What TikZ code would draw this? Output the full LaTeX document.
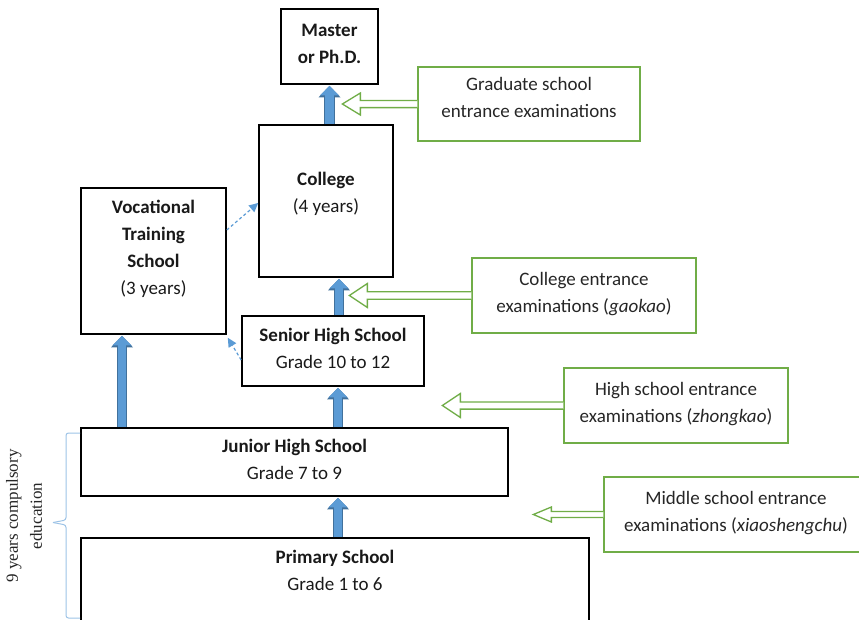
\documentclass[tikz,border=0pt]{standalone}
\usepackage{fontspec}
\setmainfont{Carlito}
\newfontfamily\timesfont{Liberation Serif}
\usetikzlibrary{arrows.meta,positioning}
\definecolor{arrowblue}{HTML}{5B9BD5}
\definecolor{arrowedge}{HTML}{41719C}
\definecolor{examgreen}{HTML}{70AD47}
\definecolor{bracketblue}{HTML}{9DC3E6}

\begin{document}
\begin{tikzpicture}[x=1pt, y=-1pt,
    font=\fontsize{19}{27}\selectfont,
    school/.style={draw, line width=1.6pt, align=center, inner sep=0pt, text depth=6pt, text=black!90},
    exam/.style={draw=examgreen, line width=1.3pt, align=center, inner sep=0pt, text depth=6pt, text=black!85},
    blockarrow/.style={draw=arrowblue, line width=8.6pt, shorten >=1pt,
        -{Triangle[width=19pt,length=9.5pt,line width=0pt]},
        preaction={draw=arrowedge, line width=10.6pt, -{Triangle[width=22pt,length=11.5pt,line width=0pt]}}},
    dasharrow/.style={draw=arrowblue, line width=1.2pt, dash pattern=on 3pt off 2.5pt,
        -{Triangle[width=9pt,length=9pt,line width=0pt]}},
    examarrow/.style n args={2}{draw=examgreen, line width=1.3pt, fill=white,
        to path={([yshift=-#2]\tikztostart) -- ([xshift=18pt,yshift=-#2]\tikztotarget)
            -- ([xshift=18pt,yshift=-#1]\tikztotarget) -- (\tikztotarget)
            -- ([xshift=18pt,yshift=#1]\tikztotarget) -- ([xshift=18pt,yshift=#2]\tikztotarget)
            -- ([yshift=#2]\tikztostart)}},
    bracket/.style={draw=bracketblue, line width=1pt, rounded corners=2.5pt}]
    \clip (0,0) rectangle (859,619);

    % Nodes
    \node[school, minimum width=97pt, minimum height=75pt] (master) at (329.5,46.5) {\textbf{Master}\\\textbf{or Ph.D.}};
    \node[school, minimum width=134pt, minimum height=152pt] (college) at (326,201) {\textbf{College}\\(4 years)\\[-16pt]\mbox{}};
    \node[school, minimum width=145pt, minimum height=146pt] (voc) at (153.5,261) {\textbf{Vocational}\\\textbf{Training}\\\textbf{School}\\(3 years)\\[-6pt]\mbox{}};
    \node[school, minimum width=182pt, minimum height=70pt] (senior) at (333,351) {\textbf{Senior High School}\\Grade 10 to 12};
    \node[school, minimum width=427pt, minimum height=68pt] (junior) at (294.5,462) {\textbf{Junior High School}\\Grade 7 to 9};
    \node[school, minimum width=508pt, minimum height=102pt] (primary) at (335,589) {\textbf{Primary School}\\Grade 1 to 6\\[4pt]\mbox{}};

    \node[exam, minimum width=222pt, minimum height=74pt] (gradexam) at (529,104) {Graduate school\\entrance examinations\\[-20pt]\mbox{}};
    \node[exam, minimum width=224pt, minimum height=75pt] (gaokao) at (584,295.5) {College entrance\\examinations (\textit{gaokao})};
    \node[exam, minimum width=224pt, minimum height=75pt] (zhongkao) at (676,405.5) {High school entrance\\examinations (\textit{zhongkao})};
    \node[exam, minimum width=264pt, minimum height=75pt] (xiaosheng) at (736,514.5) {Middle school entrance\\examinations (\textit{xiaoshengchu})};

    \coordinate[left=75pt of gradexam.west] (gradtip);
    \coordinate[left=122pt of gaokao.west] (gaokaotip);
    \coordinate[left=121pt of zhongkao.west] (zhongkaotip);
    \coordinate[left=70pt of xiaosheng.west] (xiaoshengtip);

    \node[rotate=90, align=center, text=black!85, font=\timesfont\fontsize{17}{24}\selectfont] (compulsory) at (24,516) {9 years compulsory\\education};

    % Edges
    \draw[blockarrow] ([xshift=3pt]primary.north) -- ([xshift=3pt]primary.north |- junior.south);
    \draw[blockarrow] ([xshift=5pt]senior.south |- junior.north) -- ([xshift=5pt]senior.south);
    \draw[blockarrow] ([xshift=-31.5pt]voc.south |- junior.north) -- ([xshift=-31.5pt]voc.south);
    \draw[blockarrow] ([xshift=13pt]college.south |- senior.north) -- ([xshift=13pt]college.south);
    \draw[blockarrow] (master.south |- college.north) -- (master.south);

    \draw[dasharrow] ([yshift=31pt]voc.east) -- ([yshift=-2pt]college.west);
    \draw[dasharrow] ([yshift=-9pt]senior.west) -- ([xshift=1pt,yshift=-3pt]voc.south east);

    \draw[examarrow={11pt}{3.6pt}] (gradexam.west) to (gradtip);
    \draw[examarrow={12pt}{3.8pt}] (gaokao.west) to (gaokaotip);
    \draw[examarrow={12pt}{3.6pt}] (zhongkao.west) to (zhongkaotip);
    \draw[examarrow={7.5pt}{3pt}] (xiaosheng.west) to (xiaoshengtip);

    % 9 years bracket
    \draw[bracket] (80,433) -- (66,433) -- (66,520) -- (53,522.5);
    \draw[bracket] (53,522.5) -- (66,525) -- (66,618) -- (80,618);
\end{tikzpicture}
\end{document}
